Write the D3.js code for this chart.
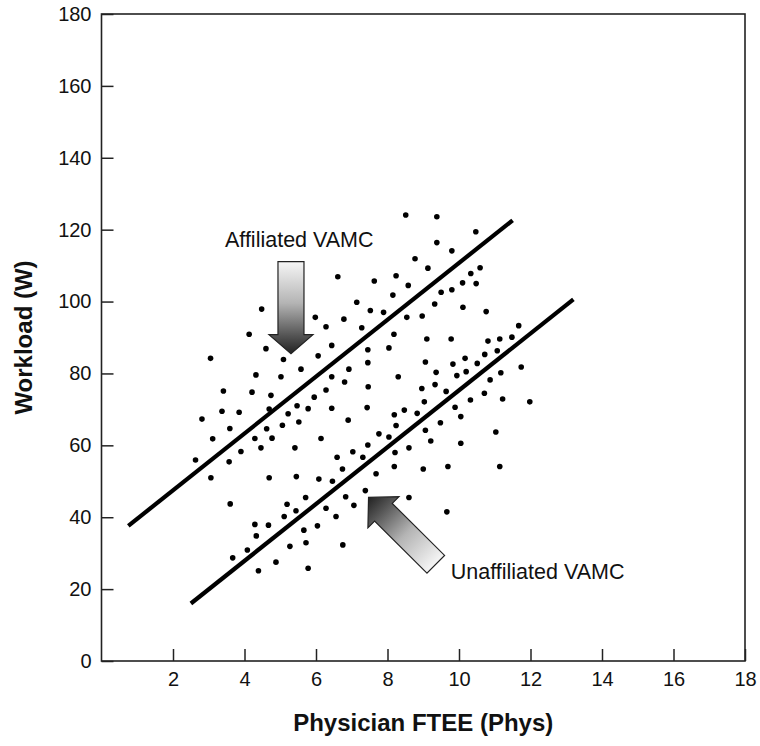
<!DOCTYPE html>
<html>
<head>
<meta charset="utf-8">
<script src="https://cdn.jsdelivr.net/npm/d3@7"></script>
<style>
  html, body { margin: 0; padding: 0; background: #fff; }
  svg { display: block; font-family: "Liberation Sans", Arial, Helvetica, sans-serif; }
</style>
</head>
<body>
<svg id="chart" width="760" height="746"></svg>
<script>
// Physician FTEE (x) against workload (y), one point per VAMC
const phys = [
  6.61, 7.14, 4.48, 5.98, 6.78, 6.28, 7.28, 4.13, 4.60, 6.44, 6.06, 3.05, 5.09, 5.58, 4.32, 5.02, 6.44, 6.92,
  8.51, 9.38, 10.47, 9.38, 9.80, 8.77, 9.13, 10.59, 10.33, 8.24, 7.63, 8.58, 10.10, 10.48, 9.80, 9.50, 8.15,
  9.32, 10.11, 7.52, 7.89, 8.54, 8.97, 10.76, 11.67, 8.18, 9.10, 9.78, 10.81, 11.14, 11.48, 7.45, 8.04, 11.07,
  10.72, 10.17, 7.45, 9.06, 9.83, 10.51, 11.74, 9.36, 9.94, 10.20, 8.30, 11.17, 10.87,
  3.41, 4.21, 4.74, 6.28, 6.80, 5.95, 3.37, 3.85, 4.69, 5.47, 5.78, 6.44, 5.22, 2.81, 3.59, 4.62, 5.06, 5.52,
  6.90, 3.11, 4.29, 4.77, 6.14, 3.90, 4.46, 5.41, 2.63, 3.57, 6.59, 7.03, 7.31, 3.06, 4.69, 5.45, 6.08, 6.46,
  6.74, 7.38, 5.71, 6.83, 3.60, 5.19, 5.44, 6.28, 7.06, 5.11, 6.56, 4.29, 4.67, 6.04, 5.66, 4.33, 5.72, 5.27,
  6.75, 4.08, 3.67, 4.88, 4.39, 5.78,
  7.46, 8.96, 9.33, 9.64, 10.71, 9.03, 10.32, 11.22, 11.98, 7.43, 8.19, 8.47, 8.83, 9.89, 10.05, 8.24, 9.48,
  9.06, 11.03, 7.76, 8.04, 9.21, 10.05, 7.45, 8.21, 8.60, 7.68, 8.19, 9.00, 9.69, 11.14, 8.60, 9.66
];
const workload = [
  106.9, 99.8, 97.9, 95.6, 95.1, 93.0, 92.7, 90.9, 86.9, 87.8, 84.9, 84.2, 83.9, 81.2, 79.6, 79.1, 79.1, 81.2,
  124.1, 123.6, 119.4, 116.4, 114.1, 111.9, 109.3, 109.4, 107.8, 107.2, 105.7, 104.5, 105.2, 105.0, 103.3, 102.6, 101.8,
  99.3, 98.4, 97.5, 97.0, 95.6, 96.0, 97.2, 93.3, 90.9, 89.6, 89.6, 89.0, 89.6, 90.1, 86.6, 87.1, 86.3,
  85.3, 84.2, 83.0, 83.2, 82.6, 82.8, 81.8, 80.3, 79.4, 80.5, 79.1, 80.2, 78.2,
  75.1, 74.8, 73.9, 75.4, 77.6, 73.4, 69.5, 69.2, 70.1, 71.0, 70.2, 70.3, 68.8, 67.3, 64.7, 64.6, 65.6, 66.5,
  67.0, 61.8, 61.9, 62.0, 61.9, 58.3, 59.3, 59.3, 55.9, 55.4, 56.7, 58.2, 56.7, 51.0, 51.0, 51.3, 50.6, 50.0,
  53.4, 47.4, 45.5, 45.7, 43.7, 43.6, 41.8, 42.5, 43.3, 40.2, 40.2, 38.0, 37.8, 37.6, 36.4, 34.8, 32.9, 31.9,
  32.3, 30.9, 28.7, 27.5, 25.1, 25.8,
  76.3, 75.8, 76.9, 75.0, 74.5, 72.1, 72.6, 72.9, 72.1, 70.5, 68.5, 69.8, 68.9, 70.6, 68.0, 65.5, 66.3,
  64.2, 63.7, 63.2, 62.3, 61.2, 60.6, 60.1, 58.0, 59.3, 52.1, 54.1, 53.4, 54.1, 54.1, 45.5, 41.5
];

// Fitted lines (start / end in data units)
const affiliatedLine = [[0.75, 37.6], [11.5, 122.6]];
const unaffiliatedLine = [[2.5, 16.0], [13.2, 100.6]];

// Annotation arrows: tail and tip in data units
const affiliatedArrow = { label: "Affiliated VAMC", tail: [5.3, 111.1], tip: [5.3, 85.5] };
const unaffiliatedArrow = { label: "Unaffiliated VAMC", tail: [9.35, 26.9], tip: [7.47, 45.5] };

const xTicks = [2, 4, 6, 8, 10, 12, 14, 16, 18];
const yTicks = [0, 20, 40, 60, 80, 100, 120, 140, 160, 180];

const plotLeft = 101.5, plotRight = 745, plotTop = 14, plotBottom = 661;
const svg = d3.select("#chart");

const x = d3.scaleLinear().domain([0, 18]).range([plotLeft, plotRight]);
const y = d3.scaleLinear().domain([0, 180]).range([plotBottom, plotTop]);

// gradients for arrows: pale at the tail, dark toward the head
const defs = svg.append("defs");
function arrowGradient(id, a) {
  const g = defs.append("linearGradient")
    .attr("id", id)
    .attr("gradientUnits", "userSpaceOnUse")
    .attr("x1", x(a.tail[0])).attr("y1", y(a.tail[1]))
    .attr("x2", x(a.tip[0])).attr("y2", y(a.tip[1]));
  g.append("stop").attr("offset", 0).attr("stop-color", "#f6f6f6");
  g.append("stop").attr("offset", 0.45).attr("stop-color", "#b4b4b4");
  g.append("stop").attr("offset", 0.8).attr("stop-color", "#555");
  g.append("stop").attr("offset", 1).attr("stop-color", "#222");
}
arrowGradient("gradA", affiliatedArrow);
arrowGradient("gradU", unaffiliatedArrow);

// axes with inward ticks
const xAxis = d3.axisBottom(x).tickValues(xTicks).tickSize(-12).tickPadding(11).tickFormat(d3.format("d"));
const yAxis = d3.axisLeft(y).tickValues(yTicks).tickSize(-12).tickPadding(10).tickFormat(d3.format("d"));

const gx = svg.append("g").attr("transform", `translate(0,${plotBottom})`).call(xAxis);
const gy = svg.append("g").attr("transform", `translate(${plotLeft},0)`).call(yAxis);
[gx, gy].forEach(g => {
  g.select(".domain").remove();
  g.selectAll(".tick line").attr("stroke", "#222").attr("stroke-width", 1.5);
  g.selectAll(".tick text").attr("fill", "#111").style("font-size", "20px")
    .style("font-family", "'Liberation Sans', Arial, Helvetica, sans-serif");
});

// frame
svg.append("rect")
  .attr("x", plotLeft).attr("y", plotTop)
  .attr("width", plotRight - plotLeft).attr("height", plotBottom - plotTop)
  .attr("fill", "none").attr("stroke", "#222").attr("stroke-width", 1.6);

// axis titles
svg.append("text")
  .attr("x", (plotLeft + plotRight) / 2).attr("y", 731)
  .attr("text-anchor", "middle")
  .style("font-weight", "bold").style("font-size", "24px").attr("fill", "#111")
  .text("Physician FTEE (Phys)");
svg.append("text")
  .attr("transform", `translate(32,${(plotTop + plotBottom) / 2}) rotate(-90)`)
  .attr("text-anchor", "middle")
  .style("font-weight", "bold").style("font-size", "24px").attr("fill", "#111")
  .text("Workload (W)");

// fitted lines
const line = d3.line().x(d => x(d[0])).y(d => y(d[1]));
svg.append("g").selectAll("path")
  .data([affiliatedLine, unaffiliatedLine])
  .join("path")
  .attr("d", line)
  .attr("fill", "none").attr("stroke", "#000").attr("stroke-width", 4.2);

// points
svg.append("g").selectAll("circle")
  .data(phys.map((p, i) => [p, workload[i]]))
  .join("circle")
  .attr("cx", d => x(d[0])).attr("cy", d => y(d[1]))
  .attr("r", 2.8).attr("fill", "#000");

// arrows
function arrowPath(a, headLen, headHalf, shaftHalf) {
  const x0 = x(a.tail[0]), y0 = y(a.tail[1]);
  const x1 = x(a.tip[0]), y1 = y(a.tip[1]);
  const L = Math.hypot(x1 - x0, y1 - y0);
  const dx = (x1 - x0) / L, dy = (y1 - y0) / L;
  const nx = -dy, ny = dx;
  const pts = [[0, -shaftHalf], [L - headLen, -shaftHalf], [L - headLen, -headHalf], [L, 0],
               [L - headLen, headHalf], [L - headLen, shaftHalf], [0, shaftHalf]]
    .map(([u, v]) => [x0 + u * dx + v * nx, y0 + u * dy + v * ny]);
  return d3.line()(pts) + "Z";
}
svg.append("path")
  .attr("d", arrowPath(affiliatedArrow, 19, 22, 13))
  .attr("fill", "url(#gradA)").attr("stroke", "#222").attr("stroke-width", 1.2);
svg.append("path")
  .attr("d", arrowPath(unaffiliatedArrow, 21, 22, 12.5))
  .attr("fill", "url(#gradU)").attr("stroke", "#222").attr("stroke-width", 1.2);

// arrow labels
svg.append("text")
  .attr("x", x(affiliatedArrow.tip[0]) - 66).attr("y", y(affiliatedArrow.tail[1]) - 14.5)
  .style("font-size", "21.5px").attr("fill", "#111")
  .text(affiliatedArrow.label);
svg.append("text")
  .attr("x", x(unaffiliatedArrow.tail[0]) + 15).attr("y", y(unaffiliatedArrow.tail[1]) + 15)
  .style("font-size", "21.5px").attr("fill", "#111")
  .text(unaffiliatedArrow.label);
</script>
</body>
</html>
